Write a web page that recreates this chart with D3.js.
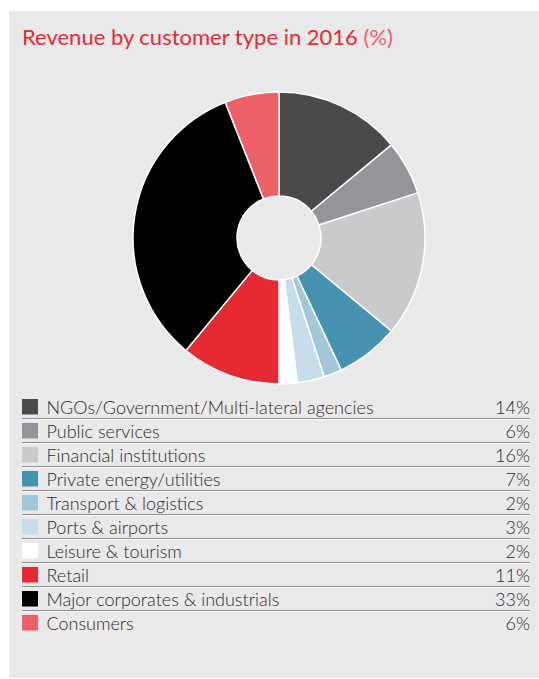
<!DOCTYPE html>
<html>
<head>
<meta charset="utf-8">
<script src="https://cdn.jsdelivr.net/npm/d3@7"></script>
<style>
  html, body { margin: 0; padding: 0; background: #ffffff; }
  svg { display: block; }
  text { font-family: "Lato", "Open Sans", sans-serif; }
</style>
</head>
<body>
<svg id="chart" width="539" height="679"></svg>
<script>
// Revenue share by customer type, 2016 (%)
const categories = [
  "NGOs/Government/Multi-lateral agencies",
  "Public services",
  "Financial institutions",
  "Private energy/utilities",
  "Transport & logistics",
  "Ports & airports",
  "Leisure & tourism",
  "Retail",
  "Major corporates & industrials",
  "Consumers"
];
const shares = [14, 6, 16, 7, 2, 3, 2, 11, 33, 6];
const colors = [
  "#4b4a48", "#939598", "#c9cacc", "#4592b1", "#a3c6d9",
  "#c7dde9", "#ffffff", "#e52a33", "#000000", "#ee5f68"
];

const svg = d3.select("#chart");

// panel background
svg.append("rect")
  .attr("x", 9).attr("y", 11)
  .attr("width", 530).attr("height", 667)
  .attr("fill", "#e9e9e9");

// title
const title = svg.append("text")
  .attr("x", 22).attr("y", 44.5)
  .attr("font-size", 22)
  .attr("fill", "#e52a33");
title.append("tspan").text("Revenue by customer type in 2016 ");
title.append("tspan").attr("fill", "#ee5f68").text("(%)");

// donut
const data = categories.map((c, i) => ({ name: c, value: shares[i], color: colors[i] }));
const pie = d3.pie().value(d => d.value).sort(null);
const arc = d3.arc().innerRadius(42).outerRadius(146);

const g = svg.append("g").attr("transform", "translate(279,238)");
g.selectAll("path")
  .data(pie(data))
  .join("path")
  .attr("d", arc)
  .attr("fill", d => d.data.color)
  .attr("stroke", "#ffffff")
  .attr("stroke-width", 1.5)
  .attr("stroke-linejoin", "round");

// legend
const rowH = 24;
const y = d3.scaleLinear().domain([0, 1]).range([413.5, 413.5 + rowH]);
const legend = svg.append("g");
const rows = legend.selectAll("g.row")
  .data(data)
  .join("g")
  .attr("class", "row")
  .attr("transform", (d, i) => `translate(0,${y(i)})`);

rows.append("rect")
  .attr("x", 22).attr("y", -14.5)
  .attr("width", 16).attr("height", 15.5)
  .attr("fill", d => d.color);

rows.append("text")
  .attr("x", 46.5).attr("y", 0)
  .attr("font-size", 18)
  .attr("font-weight", 300)
  .attr("fill", "#2b2b2b")
  .text(d => d.name);

rows.append("text")
  .attr("x", 530).attr("y", 0)
  .attr("text-anchor", "end")
  .attr("font-size", 18)
  .attr("font-weight", 300)
  .attr("fill", "#2b2b2b")
  .text(d => d.value + "%");

// separators between rows
rows.filter((d, i) => i < data.length - 1)
  .append("line")
  .attr("x1", 22).attr("x2", 530)
  .attr("y1", 5).attr("y2", 5)
  .attr("stroke", "#8e8e8e")
  .attr("stroke-width", 1);
rows.filter((d, i) => i < data.length - 1)
  .append("line")
  .attr("x1", 22).attr("x2", 530)
  .attr("y1", 6).attr("y2", 6)
  .attr("stroke", "#f7f7f7")
  .attr("stroke-width", 1);
</script>
</body>
</html>
